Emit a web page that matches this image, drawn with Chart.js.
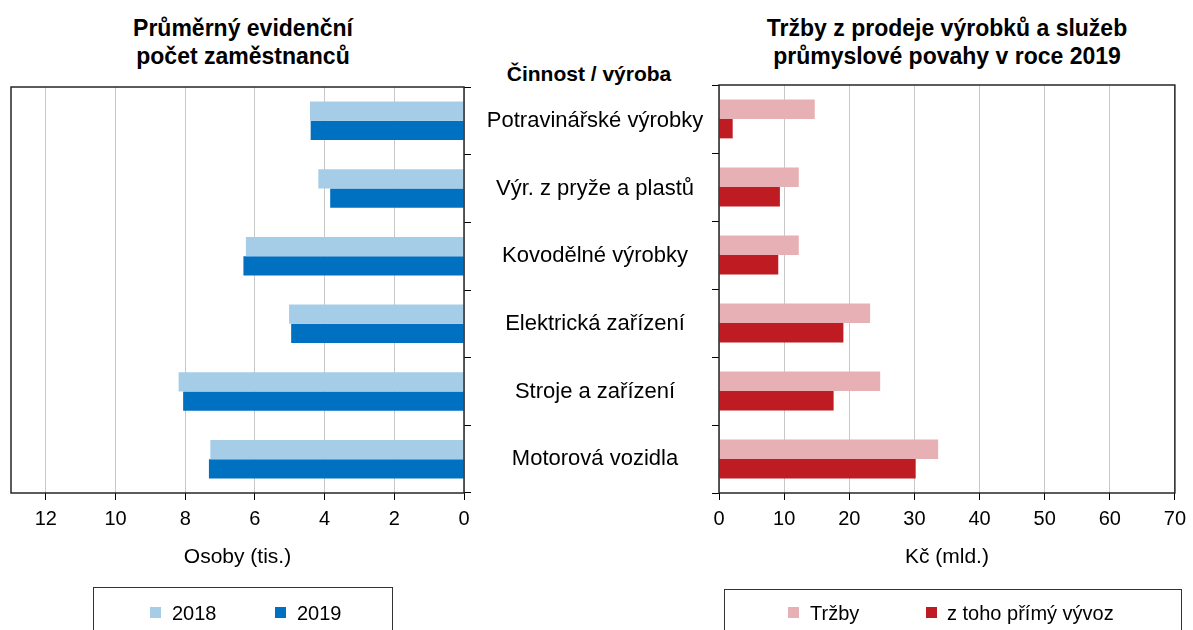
<!DOCTYPE html>
<html lang="cs">
<head>
<meta charset="utf-8">
<title>Zaměstnanci a tržby podle činnosti</title>
<script src="https://cdn.jsdelivr.net/npm/chart.js@4"></script>
<style>
  body { margin: 0; width: 1193px; height: 630px; background: #fff; overflow: hidden; position: relative;
         font-family: "Liberation Sans", Arial, sans-serif; color: #000; }
  .title { position: absolute; font-weight: bold; font-size: 23px; line-height: 28px; text-align: center; }
  canvas { position: absolute; top: 0; }
  .legend { position: absolute; border: 1px solid #333; height: 60px; box-sizing: border-box; }
  .sw { position: absolute; width: 11px; height: 11px; top: 607px; }
  .lt { position: absolute; font-size: 20px; line-height: 22px; top: 602px; white-space: nowrap; }
</style>
</head>
<body>

<div class="title" style="left:43px; top:14px; width:400px;">Průměrný evidenční<br>počet zaměstnanců</div>
<div class="title" style="left:747px; top:14px; width:400px;">Tržby z prodeje výrobků a služeb<br>průmyslové povahy v roce 2019</div>
<div class="title" style="left:489px; top:62px; width:200px; font-size:21px; line-height:24px;">Činnost / výroba</div>

<canvas id="left" width="720" height="600" style="left:0;"></canvas>
<canvas id="right" width="503" height="600" style="left:690px;"></canvas>

<div class="legend" style="left:93px; top:587px; width:300px;"></div>
<div class="legend" style="left:724px; top:589px; width:458px;"></div>
<div id="legends"></div>

<script>
// ---------- data ----------
const categories = ['Potravinářské výrobky', 'Výr. z pryže a plastů', 'Kovodělné výrobky',
                    'Elektrická zařízení', 'Stroje a zařízení', 'Motorová vozidla'];

// průměrný evidenční počet zaměstnanců (tis. osob)
const workers2018 = [4.42, 4.18, 6.26, 5.02, 8.19, 7.28];
const workers2019 = [4.40, 3.84, 6.33, 4.96, 8.06, 7.32];

// tržby 2019 (mld. Kč)
const sales   = [14.7, 12.25, 12.25, 23.2, 24.75, 33.65];
const exports = [2.1, 9.35, 9.1, 19.1, 17.6, 30.2];

const workersMax = 13, workersStep = 2;
const salesMax = 70, salesStep = 10;

// colours
const lightBlue = '#a6cde8';
const darkBlue  = '#0070c0';
const pink      = '#e6b0b4';
const red       = '#be1b23';

Chart.defaults.font.family = '"Liberation Sans", Arial, sans-serif';
Chart.defaults.color = '#000';

// frame round the plot area
const frame = {
  id: 'frame',
  afterDraw(chart) {
    const { ctx, chartArea: a } = chart;
    ctx.save();
    ctx.strokeStyle = '#262626';
    ctx.lineWidth = 1.5;
    ctx.strokeRect(a.left, a.top, a.right - a.left, a.bottom - a.top);
    ctx.restore();
  }
};

// center the category names between the two plots
const labelSize = 22;
const mctx = document.createElement('canvas').getContext('2d');
mctx.font = labelSize + 'px "Liberation Sans", Arial, sans-serif';
const widest = Math.max(...categories.map(c => mctx.measureText(c).width));
const labelPad = 595 - 464 - 7 - widest / 2;

const barOpts = { categoryPercentage: 0.57, barPercentage: 1, borderWidth: 0 };

function xAxis(max, step, title, reverse) {
  return {
    type: 'linear', min: 0, max: max, reverse: reverse,
    afterFit(s) { s.height = 77; },
    ticks: { stepSize: step, includeBounds: false, padding: 7, font: { size: 20 }, color: '#000' },
    grid: { color: '#c8c8c8', tickColor: '#000', tickLength: 7, lineWidth: 1 },
    border: { display: false },
    title: { display: true, text: title, font: { size: 21 }, padding: 0, color: '#000' }
  };
}

// ---------- left: zaměstnanci ----------
new Chart(document.getElementById('left'), {
  type: 'bar',
  data: {
    labels: categories,
    datasets: [
      { label: '2018', data: workers2018, backgroundColor: lightBlue, ...barOpts },
      { label: '2019', data: workers2019, backgroundColor: darkBlue, ...barOpts }
    ]
  },
  options: {
    indexAxis: 'y', responsive: false, animation: false,
    layout: { padding: { left: 11, top: 87, right: 0, bottom: 30 } },
    plugins: { legend: { display: false }, tooltip: { enabled: false } },
    scales: {
      x: xAxis(workersMax, workersStep, 'Osoby (tis.)', true),
      y: {
        position: 'right',
        afterFit(s) { s.width = 256; },
        ticks: { crossAlign: 'center', padding: labelPad, font: { size: labelSize }, color: '#000' },
        grid: { drawOnChartArea: false, tickColor: '#000', tickLength: 7 },
        border: { display: false }
      }
    }
  },
  plugins: [frame]
});

// ---------- right: tržby ----------
new Chart(document.getElementById('right'), {
  type: 'bar',
  data: {
    labels: categories,
    datasets: [
      { label: 'Tržby', data: sales, backgroundColor: pink, ...barOpts },
      { label: 'z toho přímý vývoz', data: exports, backgroundColor: red, ...barOpts }
    ]
  },
  options: {
    indexAxis: 'y', responsive: false, animation: false,
    layout: { padding: { left: 0, top: 85, right: 13, bottom: 30 } },
    plugins: { legend: { display: false }, tooltip: { enabled: false } },
    scales: {
      x: xAxis(salesMax, salesStep, 'Kč (mld.)', false),
      y: {
        position: 'left',
        afterFit(s) { s.width = 29; },
        ticks: { display: false },
        grid: { drawOnChartArea: false, tickColor: '#000', tickLength: 7 },
        border: { display: false }
      }
    }
  },
  plugins: [frame]
});

// ---------- legends ----------
const legendItems = [
  { text: '2018', color: lightBlue, sx: 150, tx: 172 },
  { text: '2019', color: darkBlue, sx: 275, tx: 297 },
  { text: 'Tržby', color: pink, sx: 788, tx: 810 },
  { text: 'z toho přímý vývoz', color: red, sx: 926, tx: 947 }
];
const legendsEl = document.getElementById('legends');
legendItems.forEach(it => {
  const sw = document.createElement('div');
  sw.className = 'sw';
  sw.style.left = it.sx + 'px';
  sw.style.background = it.color;
  const lt = document.createElement('div');
  lt.className = 'lt';
  lt.style.left = it.tx + 'px';
  lt.textContent = it.text;
  legendsEl.appendChild(sw);
  legendsEl.appendChild(lt);
});
</script>
</body>
</html>
